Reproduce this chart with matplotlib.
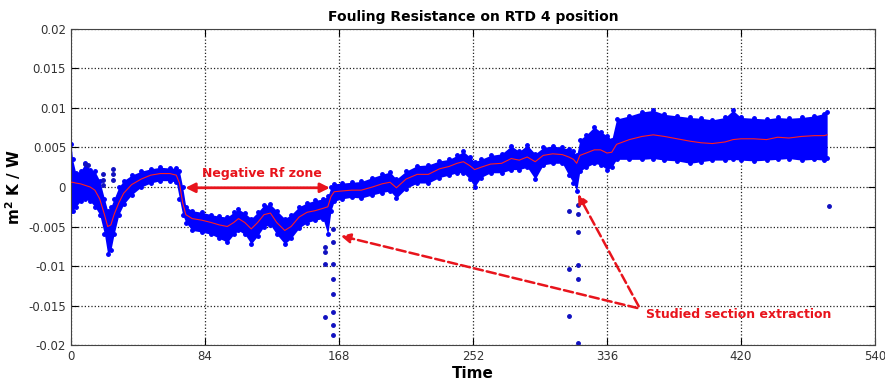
import numpy as np
import matplotlib
matplotlib.use('Agg')
import matplotlib.pyplot as plt

# sampled times (h) with smoothed Rf and the spread of the raw readings
t = [0, 1, 3, 6, 9, 12, 15, 18, 21, 23, 25, 27, 30, 33, 38, 44, 50, 56, 62, 66,
     68, 70, 72, 76, 82, 88, 93, 98, 102, 105, 109, 113, 117, 121, 125, 129, 134,
     138, 143, 148, 153, 158, 161, 163, 165, 170, 176, 182, 189, 195, 200, 204,
     210, 217, 224, 231, 237, 242, 246, 250, 253, 257, 263, 270, 276, 281, 286,
     291, 296, 302, 308, 312, 315, 317, 319, 323, 328, 332, 336, 339, 342, 350,
     358, 365, 372, 380, 388, 395, 402, 410, 415, 420, 428, 436, 443, 450, 458,
     466, 472, 474]
rf_mean = [0.0006, 0.0006, 0.0005, 0.0004, 0.0002, 0.0, -0.0004, -0.0015, -0.0035,
           -0.0050, -0.0048, -0.0035, -0.0020, -0.0008, 0.0003, 0.0010, 0.0015,
           0.0017, 0.0017, 0.0015, 0.0005, -0.0020, -0.0035, -0.0040, -0.0042,
           -0.0045, -0.0048, -0.0050, -0.0045, -0.0040, -0.0045, -0.0053, -0.0045,
           -0.0035, -0.0033, -0.0045, -0.0055, -0.0050, -0.0038, -0.0032, -0.0030,
           -0.0027, -0.0025, -0.0012, -0.0006, -0.0005, -0.0004, -0.0004, 0.0000,
           0.0004, 0.0006, -0.0001, 0.0010, 0.0016, 0.0016, 0.0023, 0.0026, 0.0030,
           0.0032, 0.0027, 0.0022, 0.0025, 0.0029, 0.0030, 0.0036, 0.0034, 0.0038,
           0.0032, 0.0040, 0.0042, 0.0041, 0.0038, 0.0035, 0.0030, 0.0040, 0.0043,
           0.0047, 0.0047, 0.0043, 0.0044, 0.0054, 0.0060, 0.0064, 0.0066, 0.0064,
           0.0061, 0.0058, 0.0056, 0.0055, 0.0057, 0.0060, 0.0061, 0.0061, 0.0060,
           0.0063, 0.0062, 0.0064, 0.0065, 0.0065, 0.0066]
rf_upper = [0.0055, 0.0035, 0.0018, 0.0020, 0.0030, 0.0022, 0.0020, 0.0008, -0.0015,
            -0.0030, -0.0025, -0.0015, 0.0000, 0.0008, 0.0015, 0.0020, 0.0023,
            0.0025, 0.0024, 0.0024, 0.0020, 0.0000, -0.0025, -0.0030, -0.0032,
            -0.0035, -0.0037, -0.0038, -0.0032, -0.0028, -0.0033, -0.0040, -0.0032,
            -0.0023, -0.0022, -0.0030, -0.0040, -0.0035, -0.0025, -0.0020, -0.0017,
            -0.0015, -0.0012, 0.0000, 0.0004, 0.0005, 0.0006, 0.0007, 0.0012,
            0.0016, 0.0019, 0.0010, 0.0020, 0.0027, 0.0028, 0.0033, 0.0035, 0.0040,
            0.0045, 0.0038, 0.0032, 0.0035, 0.0040, 0.0042, 0.0052, 0.0045, 0.0053,
            0.0042, 0.0050, 0.0052, 0.0050, 0.0048, 0.0045, 0.0040, 0.0060, 0.0066,
            0.0076, 0.0070, 0.0065, 0.0060, 0.0086, 0.0090, 0.0095, 0.0097, 0.0092,
            0.0090, 0.0088, 0.0087, 0.0085, 0.0088, 0.0097, 0.0088, 0.0087, 0.0086,
            0.0088, 0.0087, 0.0088, 0.0090, 0.0093, 0.0095]
rf_lower = [-0.0030, -0.0030, -0.0025, -0.0018, -0.0015, -0.0018, -0.0025, -0.0035,
            -0.0060, -0.0085, -0.0080, -0.0060, -0.0035, -0.0022, -0.0010, 0.0000,
            0.0005, 0.0008, 0.0008, 0.0006, -0.0015, -0.0035, -0.0045, -0.0055,
            -0.0057, -0.0060, -0.0065, -0.0070, -0.0060, -0.0055, -0.0060, -0.0072,
            -0.0062, -0.0050, -0.0048, -0.0060, -0.0072, -0.0065, -0.0052, -0.0045,
            -0.0042, -0.0040, -0.0060, -0.0030, -0.0018, -0.0015, -0.0013, -0.0014,
            -0.0010, -0.0007, -0.0005, -0.0014, -0.0002, 0.0005, 0.0005, 0.0012,
            0.0015, 0.0018, 0.0018, 0.0010, 0.0000, 0.0012, 0.0018, 0.0018, 0.0022,
            0.0022, 0.0025, 0.0010, 0.0028, 0.0030, 0.0030, 0.0015, 0.0005, -0.0005,
            0.0020, 0.0025, 0.0030, 0.0028, 0.0022, 0.0025, 0.0035, 0.0035, 0.0035,
            0.0036, 0.0034, 0.0033, 0.0030, 0.0032, 0.0034, 0.0034, 0.0035, 0.0034,
            0.0033, 0.0034, 0.0035, 0.0036, 0.0034, 0.0035, 0.0034, 0.0037]

# isolated readings away from the main band
spike_t = [8.8, 10.6, 20.0, 20.0, 20.0, 26.3, 26.3, 26.3,
           159.2, 159.2, 159.2, 159.2,
           164.3, 164.3, 164.3, 164.3, 164.3, 164.3, 164.3, 164.3,
           312.2, 312.2, 312.2, 317.9, 317.9, 317.9, 317.9, 317.9, 317.9, 475.0]
spike_rf = [0.0029, 0.0028, 0.0016, 0.0009, 0.0003, 0.0023, 0.0016, 0.0009,
            -0.0076, -0.0082, -0.0097, -0.0165,
            -0.0053, -0.0069, -0.0097, -0.0116, -0.0135, -0.0158, -0.0187, -0.0175,
            -0.0030, -0.0104, -0.0163, -0.0023, -0.0034, -0.0057, -0.0099, -0.0117, -0.0198,
            -0.0024]

tick_pos = [0, 84, 168, 252, 336, 420, 504]
tick_lab = ['0', '84', '168', '252', '336', '420', '540']
y_ticks = [-0.02, -0.015, -0.01, -0.005, 0, 0.005, 0.01, 0.015, 0.02]
y_lab = ['-0.02', '-0.015', '-0.01', '-0.005', '0', '0.005', '0.01', '0.015', '0.02']

fig = plt.figure(figsize=(8.85, 3.87), dpi=100)
ax = fig.add_axes([0.0802, 0.1085, 0.9085, 0.8166])

ax.fill_between(t, rf_lower, rf_upper, color='#0000ff', lw=0, zorder=2)
ax.plot(t, rf_upper, '.', color='#0000ff', ms=5, zorder=2)
ax.plot(t, rf_lower, '.', color='#0000ff', ms=5, zorder=2)
ax.plot(spike_t, spike_rf, '.', color='#1010c0', ms=5, zorder=2)
ax.plot(t, rf_mean, '-', color='#ff2020', lw=0.8, zorder=3)

ax.set_xlim(0, 504)
ax.set_ylim(-0.02, 0.02)
ax.set_xticks(tick_pos)
ax.set_xticklabels(tick_lab)
ax.set_yticks(y_ticks)
ax.set_yticklabels(y_lab)
ax.tick_params(direction='in', length=5, labelsize=8.5, labelcolor='#333333',
               top=True, right=True)
ax.grid(True, linestyle=':', color='#222222', lw=0.9)
for s in ax.spines.values():
    s.set_color('#444444')

ax.set_title('Fouling Resistance on RTD 4 position', fontsize=10, fontweight='bold', pad=6)
ax.set_xlabel('Time', fontsize=11, fontweight='bold', labelpad=2)
ax.set_ylabel('m$^\\mathbf{2}$ K / W', fontsize=11, fontweight='bold', labelpad=4)

red = '#e8141c'
ax.annotate('', xy=(70, -0.0001), xytext=(164, -0.0001),
            arrowprops=dict(arrowstyle='<|-|>', color=red, lw=2, mutation_scale=14),
            zorder=4)
ax.text(120, 0.0017, 'Negative Rf zone', color=red, fontsize=9, fontweight='bold',
        ha='center', va='center', zorder=4)

src = (356.7, -0.0154)
for tip in [(167.4, -0.0061), (317.0, -0.0006)]:
    ax.annotate('', xy=tip, xytext=src,
                arrowprops=dict(arrowstyle='-|>', color=red, lw=1.8, ls='--',
                                mutation_scale=14),
                zorder=4)
ax.text(360.5, -0.0161, 'Studied section extraction', color=red, fontsize=9,
        fontweight='bold', ha='left', va='center', zorder=4)

fig.savefig('out.png', dpi=100)
